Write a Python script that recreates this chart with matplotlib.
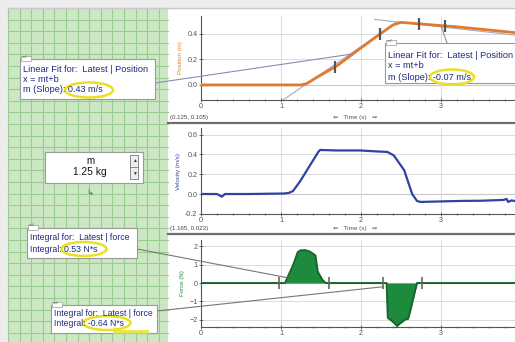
import matplotlib
matplotlib.use("Agg")
import matplotlib.pyplot as plt
from matplotlib.patches import Rectangle, Ellipse, ConnectionPatch
import numpy as np

plt.rcParams['font.family'] = ['Liberation Sans', 'DejaVu Sans']

# ---------------- data ----------------
pos_t = [0.0, 1.25, 1.32, 1.45, 1.70, 2.00, 2.24, 2.40, 2.50, 2.80, 3.20, 3.60, 3.92]
pos_x = [0.0, 0.0, 0.01, 0.06, 0.15, 0.29, 0.40, 0.47, 0.49, 0.475, 0.455, 0.43, 0.41]

vel_t = [0.0, 0.20, 0.26, 0.30, 0.60, 1.04, 1.10, 1.15, 1.24, 1.37, 1.47, 1.49, 1.70, 1.99, 2.20, 2.33,
         2.41, 2.54, 2.64, 2.70, 2.74, 3.00, 3.24, 3.50, 3.78, 3.82, 3.84, 3.88, 3.92]
vel_v = [0.0, 0.0, -0.027, 0.0, 0.0, 0.005, 0.012, 0.03, 0.13, 0.30, 0.43, 0.445, 0.44, 0.44, 0.43, 0.425,
         0.39, 0.24, 0.0, -0.07, -0.08, -0.075, -0.07, -0.068, -0.06, -0.05, -0.08, -0.065, -0.07]

force_t = [0.0, 1.00, 1.05, 1.15, 1.21, 1.24, 1.30, 1.36, 1.43, 1.46, 1.52, 1.56, 2.00, 2.32,
           2.335, 2.38, 2.42, 2.45, 2.49, 2.55, 2.59, 2.62, 2.70, 3.92]
force_f = [0.0, 0.0, 0.0, 0.97, 1.69, 1.78, 1.80, 1.72, 1.51, 0.61, 0.16, 0.0, 0.0, 0.0,
           -1.9, -2.05, -2.2, -2.35, -2.2, -2.0, -1.95, -1.45, 0.0, 0.0]

fit1_slope, fit1_t0, fit1_range = 0.43, 1.30, (1.0, 2.45)      # x = m(t - t0)
fit2_slope, fit2_pt, fit2_range = -0.07, (2.50, 0.49), (2.17, 3.92)
fit1_brackets = [1.675, 2.24]
fit2_brackets = [2.72, 3.05]
int1_range = (0.98, 1.60)
int2_range = (2.28, 2.76)

box1_lines = ["Linear Fit for:  Latest | Position", "x = mt+b", "m (Slope): 0.43 m/s"]
box2_lines = ["Linear Fit for:  Latest | Position", "x = mt+b", "m (Slope): -0.07 m/s"]
box4_lines = ["Integral for:  Latest | force", "Integral: 0.53 N*s"]
box5_lines = ["Integral for:  Latest | force", "Integral: -0.64 N*s"]
mass_label, mass_value = "m", "1.25 kg"

# ---------------- figure ----------------
W, H = 515, 342
fig = plt.figure(figsize=(W / 100, H / 100), dpi=100, facecolor='#ededed')

def px_axes(x0, y0, x1, y1, **kw):
    return fig.add_axes([x0 / W, 1 - y1 / H, (x1 - x0) / W, (y1 - y0) / H], **kw)

# background layer
bg = px_axes(0, 0, W, H, zorder=0)
bg.set_xlim(0, W); bg.set_ylim(H, 0); bg.axis('off')
bg.add_patch(Rectangle((8, 8), 160, H, facecolor='#cbe7c3', edgecolor='none'))
for gx in np.arange(8, 168, 11.6):
    bg.plot([gx, gx], [8, H], color='#98cc90', lw=0.8)
for gy in np.arange(8, H, 11.6):
    bg.plot([8, 168], [gy, gy], color='#98cc90', lw=0.8)
bg.add_patch(Rectangle((168, 8), W - 168, H, facecolor='white', edgecolor='none'))
bg.plot([8, W], [8, 8], color='#c8c8c8', lw=1)
for sy in (123, 234):
    bg.plot([168, W], [sy, sy], color='#6e6e6e', lw=1.6)
bg.text(170, 120, "(0.125, 0.105)", fontsize=4.4, color='#444444', va='bottom')
bg.text(170, 231, "(1.165, 0.023)", fontsize=4.4, color='#444444', va='bottom')
for ly in (120, 231):
    bg.text(355, ly, "\u21d0   Time (s)   \u21d2", fontsize=4.6, color='#555555', ha='center', va='bottom')

X0 = 201
XMAX = (W - X0) / 80.0

def style(ax, ylabel, color, yticks):
    ax.set_facecolor('none')
    ax.set_xlim(0, XMAX)
    ax.set_xticks([0, 1, 2, 3])
    ax.set_xticks(np.arange(0, XMAX, 0.2), minor=True)
    ax.set_yticks(yticks)
    ax.grid(True, which='major', color='#d6d6d6', lw=0.6)
    for s in ('top', 'right'):
        ax.spines[s].set_visible(False)
    for s in ('left', 'bottom'):
        ax.spines[s].set_color('#555555')
        ax.spines[s].set_linewidth(0.8)
    ax.tick_params(which='both', direction='inout', colors='#555555', labelsize=5.2,
                   length=3, width=0.6, pad=1)
    ax.tick_params(which='minor', length=2)
    ax.set_ylabel(ylabel, fontsize=4.4, color=color, labelpad=3)
    ax.axhline(0, color='#9a9a9a', lw=0.8, zorder=1)

# ---- position ----
ax1 = px_axes(X0, 16, W, 100, zorder=2)
ax1.set_ylim(-0.118, 0.54)
style(ax1, "Position (m)", '#d98030', [0.0, 0.2, 0.4])
ax1.yaxis.set_major_formatter(matplotlib.ticker.FormatStrFormatter('%.1f'))
ft1 = np.array(fit1_range)
ax1.plot(ft1, fit1_slope * (ft1 - fit1_t0), color='#a8a8cc', lw=0.8, zorder=2)
ft2 = np.array(fit2_range)
ax1.plot(ft2, fit2_pt[1] + fit2_slope * (ft2 - fit2_pt[0]), color='#a8a8cc', lw=0.8, zorder=2)
ax1.plot(pos_t, pos_x, color='#e07a2e', lw=2.0, zorder=3)
for bt in fit1_brackets + fit2_brackets:
    ax1.plot(bt, np.interp(bt, pos_t, pos_x), marker='|', ms=8, mew=1.6, color='#555555', zorder=4)

# ---- velocity ----
ax2 = px_axes(X0, 128, W, 214, zorder=2)
ax2.set_ylim(-0.202, 0.667)
style(ax2, "Velocity (m/s)", '#3344a0', [-0.2, 0.0, 0.2, 0.4, 0.6])
ax2.yaxis.set_major_formatter(matplotlib.ticker.FormatStrFormatter('%.1f'))
ax2.plot(vel_t, vel_v, color='#2f43a0', lw=1.6, zorder=3)

# ---- force ----
ax3 = px_axes(X0, 240, W, 327, zorder=2)
ax3.set_ylim(-2.4, 2.35)
style(ax3, "Force (N)", '#2a8a3a', [-2, -1, 0, 1, 2])
ft = np.array(force_t); ff = np.array(force_f)
ax3.fill_between(ft, ff, 0, where=(ft >= int1_range[0]) & (ft <= int1_range[1]),
                 color='#1e8a3e', lw=0, zorder=2)
ax3.fill_between(ft, ff, 0, where=(ft >= int2_range[0]) & (ft <= int2_range[1]),
                 color='#1e8a3e', lw=0, zorder=2)
ax3.plot(ft, ff, color='#17652c', lw=1.4, zorder=3)
for bt in int1_range + int2_range:
    ax3.plot(bt, 0, marker='|', ms=8, mew=1.2, color='#666666', zorder=4)

# ---------------- overlay ----------------
ov = px_axes(0, 0, W, H, zorder=10)
ov.set_xlim(0, W); ov.set_ylim(H, 0); ov.axis('off'); ov.patch.set_alpha(0)

def leader(xy_px, ax, xy_data, color='#777777'):
    con = ConnectionPatch(xyA=xy_px, coordsA=ov.transData, xyB=xy_data, coordsB=ax.transData,
                          color=color, lw=0.8, zorder=9)
    fig.add_artist(con)

def textbox(x0, y0, x1, y1, lines, ys, fs=6.6):
    ov.add_patch(Rectangle((x0, y0), x1 - x0, y1 - y0, facecolor='white', edgecolor='#9a9a9a', lw=0.8))
    ov.add_patch(Rectangle((x0 + 1, y0 - 3), 10, 5, facecolor='white', edgecolor='#9a9a9a', lw=0.5))
    ov.text(x0 + 2, y0 - 0.5, "xuf", fontsize=3, color='#666666', va='bottom')
    for line, y in zip(lines, ys):
        ov.text(x0 + 3, y, line, fontsize=fs, color='#1e2a80', va='center')

leader((155, 83), ax1, (1.9, np.interp(1.9, pos_t, pos_x)), color='#8c8cb0')
leader((447, 43), ax1, (3.0, np.interp(3.0, pos_t, pos_x)), color='#8c8cb0')
leader((137, 249), ax3, (1.07, 0.3))
leader((157, 311), ax3, (2.28, -0.2))

textbox(20, 59, 155, 99, box1_lines, [70, 80, 90])
ov.add_patch(Ellipse((89, 90), 48, 15, facecolor='none', edgecolor='#e8e020', lw=1.8))
textbox(385, 43, 530, 83, box2_lines, [55, 66, 77])
ov.add_patch(Ellipse((452, 77), 44, 15, facecolor='none', edgecolor='#e8e020', lw=1.8))
textbox(27, 228, 137, 258, box4_lines, [238, 249], fs=6.3)
ov.add_patch(Ellipse((84, 249), 45, 14, facecolor='none', edgecolor='#e8e020', lw=1.8))
textbox(51, 305, 157, 333, box5_lines, [313, 323], fs=6.2)
ov.add_patch(Ellipse((107, 323), 47, 14, facecolor='none', edgecolor='#e8e020', lw=1.8))
ov.add_patch(Rectangle((113, 330), 36, 4, facecolor='#e8e020', edgecolor='none', alpha=0.8))

# mass parameter box
ov.add_patch(Rectangle((45, 152), 98, 31, facecolor='white', edgecolor='#9a9a9a', lw=0.8))
ov.text(90, 161, mass_label, fontsize=7.0, color='#111111', ha='center', va='center')
ov.text(90, 172, mass_value, fontsize=7.4, color='#111111', ha='center', va='center')
ov.add_patch(Rectangle((130, 155), 8, 24, facecolor='#eeeeee', edgecolor='#777777', lw=0.6))
ov.plot([130, 138], [167, 167], color='#777777', lw=0.6)
ov.text(134, 161, "\u25b2", fontsize=3.5, ha='center', va='center', color='#333333')
ov.text(134, 173, "\u25bc", fontsize=3.5, ha='center', va='center', color='#333333')
ov.text(90, 194, "\u21b3", fontsize=6, ha='center', va='center', color='#666666')

fig.savefig("out.png", dpi=100, facecolor=fig.get_facecolor())
